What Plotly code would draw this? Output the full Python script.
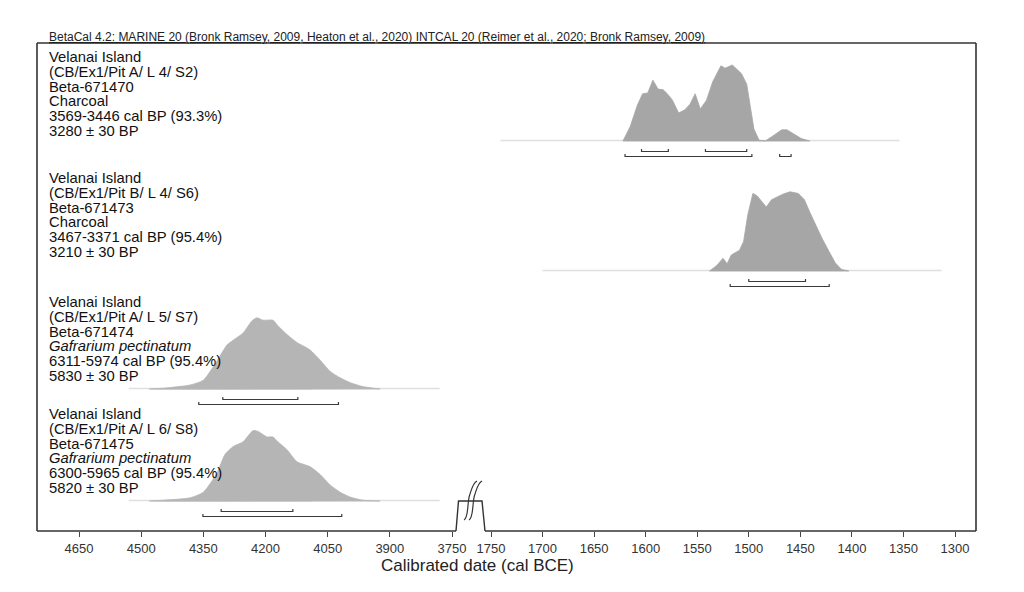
import plotly.graph_objects as go

# ---------------- data ----------------
title_text = ("BetaCal 4.2: MARINE 20 (Bronk Ramsey, 2009, Heaton et al., 2020) "
              "INTCAL 20 (Reimer et al., 2020; Bronk Ramsey, 2009)")
axis_title = "Calibrated date (cal BCE)"

left_ticks = [4650, 4500, 4350, 4200, 4050, 3900, 3750]
right_ticks = [1750, 1700, 1650, 1600, 1550, 1500, 1450, 1400, 1350, 1300]

labels_s2 = ["Velanai Island", "(CB/Ex1/Pit A/ L 4/ S2)", "Beta-671470", "Charcoal",
             "3569-3446 cal BP (93.3%)", "3280 ± 30 BP"]
labels_s6 = ["Velanai Island", "(CB/Ex1/Pit B/ L 4/ S6)", "Beta-671473", "Charcoal",
             "3467-3371 cal BP (95.4%)", "3210 ± 30 BP"]
labels_s7 = ["Velanai Island", "(CB/Ex1/Pit A/ L 5/ S7)", "Beta-671474", "<i>Gafrarium pectinatum</i>",
             "6311-5974 cal BP (95.4%)", "5830 ± 30 BP"]
labels_s8 = ["Velanai Island", "(CB/Ex1/Pit A/ L 6/ S8)", "Beta-671475", "<i>Gafrarium pectinatum</i>",
             "6300-5965 cal BP (95.4%)", "5820 ± 30 BP"]

# calibrated probability (relative) vs year BCE
years_s2 = [1622, 1615, 1608, 1603, 1598, 1593, 1588, 1583, 1579, 1574, 1568, 1562, 1557, 1552,
            1547, 1541, 1535, 1527, 1523, 1516, 1511, 1507, 1502, 1498, 1495, 1490, 1484, 1477,
            1468, 1463, 1457, 1449, 1441]
prob_s2 = [0.0, 0.18, 0.45, 0.59, 0.60, 0.76, 0.65, 0.64, 0.59, 0.51, 0.35, 0.39, 0.46, 0.59,
           0.40, 0.51, 0.74, 0.94, 0.91, 0.95, 0.89, 0.84, 0.71, 0.39, 0.15, 0.01, 0.0, 0.06,
           0.14, 0.14, 0.09, 0.03, 0.0]

years_s6 = [1538, 1531, 1525, 1521, 1517, 1509, 1505, 1501, 1496, 1492, 1483, 1478, 1467, 1460,
            1452, 1446, 1441, 1435, 1429, 1422, 1416, 1410, 1403]
prob_s6 = [0.0, 0.07, 0.16, 0.09, 0.20, 0.26, 0.37, 0.70, 0.97, 0.94, 0.80, 0.89, 0.96, 0.99,
           0.97, 0.89, 0.74, 0.57, 0.41, 0.24, 0.10, 0.02, 0.0]

years_s7 = [4480, 4447, 4382, 4350, 4317, 4293, 4278, 4254, 4233, 4221, 4206, 4182, 4170, 4148,
            4124, 4093, 4068, 4044, 4020, 3996, 3965, 3924]
prob_s7 = [0.0, 0.01, 0.05, 0.11, 0.35, 0.55, 0.61, 0.70, 0.85, 0.89, 0.86, 0.86, 0.79, 0.68,
           0.58, 0.49, 0.36, 0.22, 0.14, 0.08, 0.03, 0.0]

years_s8 = [4480, 4447, 4382, 4350, 4317, 4298, 4278, 4254, 4230, 4218, 4196, 4182, 4170, 4148,
            4124, 4093, 4068, 4044, 4020, 3996, 3965, 3924]
prob_s8 = [0.0, 0.01, 0.04, 0.11, 0.35, 0.58, 0.68, 0.74, 0.88, 0.87, 0.80, 0.80, 0.74, 0.64,
           0.49, 0.43, 0.33, 0.20, 0.11, 0.05, 0.01, 0.0]

# extent of the faint distribution tails (year BCE)
tail_s2 = [1741, 1354]
tail_s6 = [1700, 1313]
tail_s7 = [4530, 3780]
tail_s8 = [4530, 3780]

# 68.2% and 95.4% ranges (year BCE)
r68_s2 = [(1604, 1578), (1542, 1502)]
r95_s2 = [(1620, 1497), (1470, 1459)]
r68_s6 = [(1500, 1445)]
r95_s6 = [(1518, 1422)]
r68_s7 = [(4303, 4122)]
r95_s7 = [(4361, 4024)]
r68_s8 = [(4307, 4134)]
r95_s8 = [(4351, 4016)]

# ---------------- layout constants ----------------
W, H = 1024, 592
OFF = 8                                  # default page body margin
L, R, T, B = 37, 976, 43, 531            # plot frame in page px
PW, PH = R - L, B - T
SPLIT = 471                              # px where the axis breaks
FONT = "Liberation Sans, Arial, Helvetica, sans-serif"
PEAK = 80                                # px height for prob = 1


def pxx(x):
    return (x - L) / PW


def pxy(y):
    return (B - y) / PH


panels = [
    dict(years=years_s2, prob=prob_s2, tail=tail_s2, r68=r68_s2, r95=r95_s2, labels=labels_s2,
         xa="x2", base=B - 141, label_top=57, color="#a6a6a6", shape="linear"),
    dict(years=years_s6, prob=prob_s6, tail=tail_s6, r68=r68_s6, r95=r95_s6, labels=labels_s6,
         xa="x2", base=B - 271, label_top=178, color="#a6a6a6", shape="linear"),
    dict(years=years_s7, prob=prob_s7, tail=tail_s7, r68=r68_s7, r95=r95_s7, labels=labels_s7,
         xa="x", base=B - 389, label_top=302, color="#b5b5b5", shape="spline"),
    dict(years=years_s8, prob=prob_s8, tail=tail_s8, r68=r68_s8, r95=r95_s8, labels=labels_s8,
         xa="x", base=B - 501, label_top=414, color="#b5b5b5", shape="spline"),
]

fig = go.Figure()
annotations = []

for p in panels:
    base = p["base"]
    # faint tail along the baseline
    fig.add_trace(go.Scatter(x=p["tail"], y=[base + 0.5, base + 0.5], xaxis=p["xa"], yaxis="y",
                             mode="lines", line=dict(color="rgba(175,175,175,0.4)", width=1.6),
                             hoverinfo="skip", showlegend=False))
    ys = [base + v * PEAK for v in p["prob"]]
    xs = list(p["years"]) + [p["years"][-1], p["years"][0]]
    ys = ys + [base, base]
    line = dict(color=p["color"], width=0.8, shape=p["shape"])
    if p["shape"] == "spline":
        line["smoothing"] = 0.6
    fig.add_trace(go.Scatter(x=xs, y=ys, xaxis=p["xa"], yaxis="y", mode="lines",
                             fill="toself", fillcolor=p["color"], line=line,
                             hoverinfo="skip", showlegend=False))
    # range brackets
    for ranges, off in ((p["r68"], 10.5), (p["r95"], 15.5)):
        for a, b in ranges:
            yb = base - off
            fig.add_trace(go.Scatter(x=[a, a, b, b], y=[yb + 2.5, yb, yb, yb + 2.5],
                                     xaxis=p["xa"], yaxis="y", mode="lines",
                                     line=dict(color="#3a3a3a", width=1.2),
                                     hoverinfo="skip", showlegend=False))
    # labels
    for i, txt in enumerate(p["labels"]):
        annotations.append(dict(text=txt, xref="paper", yref="paper", x=pxx(47),
                                y=pxy(p["label_top"] + i * 14.8), xanchor="left", yanchor="middle",
                                showarrow=False, font=dict(family=FONT, size=14.8, color="#111")))

# title
annotations.append(dict(text="<u>" + title_text + "</u>", xref="paper", yref="paper", x=pxx(47),
                        y=pxy(37), xanchor="left", yanchor="middle", showarrow=False,
                        font=dict(family=FONT, size=12, color="#222")))
# axis title
annotations.append(dict(text=axis_title, xref="paper", yref="paper", x=pxx(477), y=pxy(565),
                        xanchor="center", yanchor="middle", showarrow=False,
                        font=dict(family=FONT, size=17, color="#222")))

line_style = dict(color="#333", width=1.6)
shapes = [
    dict(type="line", xref="paper", yref="paper", x0=pxx(L), x1=pxx(L), y0=pxy(T), y1=pxy(B), line=line_style),
    dict(type="line", xref="paper", yref="paper", x0=pxx(L), x1=pxx(R), y0=pxy(T), y1=pxy(T), line=line_style),
    dict(type="line", xref="paper", yref="paper", x0=pxx(R), x1=pxx(R), y0=pxy(T), y1=pxy(B), line=line_style),
    dict(type="line", xref="paper", yref="paper", x0=pxx(L), x1=pxx(456), y0=pxy(B), y1=pxy(B), line=line_style),
    dict(type="line", xref="paper", yref="paper", x0=pxx(485), x1=pxx(R), y0=pxy(B), y1=pxy(B), line=line_style),
    dict(type="path", xref="paper", yref="paper",
         path=f"M {pxx(456)},{pxy(B)} L {pxx(458.5)},{pxy(501)} L {pxx(482)},{pxy(501)} L {pxx(485)},{pxy(B)}",
         line=dict(color="#333", width=1.4)),
]
for dx in (0, 5):
    shapes.append(dict(type="path", xref="paper", yref="paper",
                       path=(f"M {pxx(464 + dx)},{pxy(520)} C {pxx(469 + dx)},{pxy(518)} "
                             f"{pxx(467 + dx)},{pxy(500)} {pxx(470 + dx)},{pxy(494)} "
                             f"C {pxx(472 + dx)},{pxy(488)} {pxx(473 + dx)},{pxy(483)} {pxx(477 + dx)},{pxy(481)}"),
                       line=dict(color="#333", width=1.2)))

split = pxx(SPLIT)
# left segment: 4650 at px 79, 3750 at px 452; right: 1750 at px 491, 1300 at px 955
l_ppy = (452 - 79) / (4650 - 3750)
r_ppy = (955 - 491) / (1750 - 1300)
left_range = [4650 + (79 - L) / l_ppy, 3750 - (SPLIT - 452) / l_ppy]
right_range = [1750 + (491 - SPLIT) / r_ppy, 1300 - (R - 955) / r_ppy]

axis_common = dict(showgrid=False, zeroline=False, showline=False, ticks="outside", ticklen=5,
                   tickwidth=1.2, tickcolor="#444", anchor="y",
                   tickfont=dict(family=FONT, size=13, color="#333"))

fig.update_layout(
    width=W, height=H,
    margin=dict(l=L - OFF, r=W - R + OFF, t=T - OFF, b=H - B + OFF),
    paper_bgcolor="white", plot_bgcolor="white",
    xaxis=dict(domain=[0, split], range=left_range, tickvals=left_ticks,
               ticktext=[str(t) for t in left_ticks], **axis_common),
    xaxis2=dict(domain=[split, 1], range=right_range, tickvals=right_ticks,
                ticktext=[str(t) for t in right_ticks], **axis_common),
    yaxis=dict(range=[0, PH], visible=False, fixedrange=True, domain=[0, 1]),
    annotations=annotations,
    shapes=shapes,
    showlegend=False,
)

fig.write_html("out.html")
